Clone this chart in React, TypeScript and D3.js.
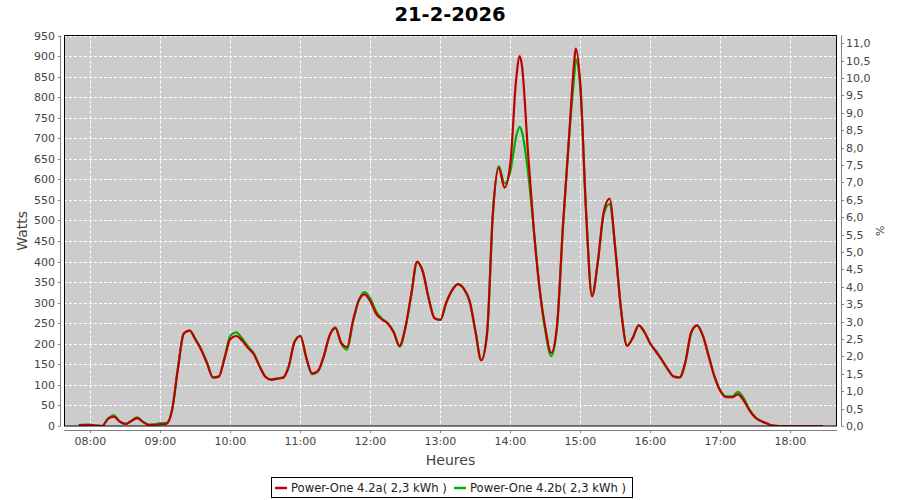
import React from "react";
import * as d3 from "d3";

const TITLE = "21-2-2026";
const Y_LEFT_LABEL = "Watts";
const Y_RIGHT_LABEL = "%";
const X_LABEL = "Heures";
const SERIES_NAMES = ["Power-One 4.2a( 2,3 kWh )", "Power-One 4.2b( 2,3 kWh )"];

const times = [
  "07:50","07:55","08:00","08:05","08:10","08:15","08:20","08:25","08:30","08:35","08:40","08:45","08:50","08:55",
  "09:00","09:05","09:10","09:15","09:20","09:25","09:30","09:35","09:40","09:45","09:50","09:55",
  "10:00","10:05","10:10","10:15","10:20","10:25","10:30","10:35","10:40","10:45","10:50","10:55",
  "11:00","11:05","11:10","11:15","11:20","11:25","11:30","11:35","11:40","11:45","11:50","11:55",
  "12:00","12:05","12:10","12:15","12:20","12:25","12:30","12:35","12:40","12:45","12:50","12:55",
  "13:00","13:05","13:10","13:15","13:20","13:25","13:30","13:35","13:40","13:45","13:50","13:55",
  "14:00","14:05","14:08","14:10","14:15","14:20","14:25","14:30","14:35","14:40","14:45","14:50","14:55","14:56",
  "15:00","15:05","15:10","15:15","15:20","15:25","15:30","15:35","15:40","15:45","15:50","15:55",
  "16:00","16:05","16:10","16:15","16:20","16:25","16:30","16:35","16:40","16:45","16:50","16:55",
  "17:00","17:05","17:10","17:15","17:20","17:25","17:30","17:35","17:40","17:45","17:50","17:55",
  "18:00","18:05","18:10","18:15","18:20","18:25","18:28"
];

const powerA = [
  2,3,3,1,0,17,23,11,5,12,19,10,3,3,
  4,5,39,140,225,232,210,185,152,118,120,165,
  212,219,208,190,175,145,120,113,115,117,145,205,
  219,167,128,134,170,220,238,202,192,255,305,320,
  303,273,259,249,228,195,240,320,400,375,310,262,
  258,300,330,345,334,305,232,160,225,517,628,580,
  640,845,900,875,670,480,335,238,178,245,485,690,895,918,
  830,515,315,400,520,553,430,280,195,215,245,228,
  200,180,160,138,120,118,155,228,245,220,170,120,
  85,70,70,77,62,38,20,12,6,1,0,0,
  0,0,0,0,0,0,0
];

const powerB = [
  2,3,3,1,0,18,26,11,5,12,21,10,3,4,
  7,7,40,140,225,233,212,187,154,118,120,167,
  220,228,213,194,177,146,120,113,116,118,145,205,
  219,165,126,132,168,220,240,200,186,252,305,326,
  310,278,261,250,228,193,238,318,398,375,310,262,
  258,300,330,345,334,303,230,160,225,517,632,590,
  620,705,728,715,620,480,335,230,170,240,480,690,860,892,
  820,515,318,400,515,540,430,280,195,215,245,228,
  200,182,160,138,120,118,155,226,245,220,170,120,
  87,72,72,83,68,40,22,12,6,1,0,0,
  0,0,0,0,0,0,0
];

const leftTicks = [0,50,100,150,200,250,300,350,400,450,500,550,600,650,700,750,800,850,900,950];
const rightTicks = [0,0.5,1,1.5,2,2.5,3,3.5,4,4.5,5,5.5,6,6.5,7,7.5,8,8.5,9,9.5,10,10.5,11];
const hourTicks = ["08:00","09:00","10:00","11:00","12:00","13:00","14:00","15:00","16:00","17:00","18:00"];

const parse = d3.timeParse("%H:%M:%S");
const P = (s: string) => parse(s.length === 5 ? s + ":00" : s) as Date;

export default function App() {
  const W = 900, H = 500;
  const L = 64, R = 837, T = 35.5, B = 426;
  const font = "'DejaVu Sans', sans-serif";
  const x = d3.scaleTime().domain([P("07:37:20"), P("18:40:00")]).range([L, R]);
  const y = d3.scaleLinear().domain([0, 950]).range([B, T]);
  const y2 = d3.scaleLinear().domain([0, 11.22]).range([B, T]);
  const fmt2 = (v: number) => d3.format(".1f")(v).replace(".", ",");

  const dataA = times.map((t, i) => ({ t: P(t), v: powerA[i] }));
  const dataB = times.map((t, i) => ({ t: P(t), v: powerB[i] }));
  const line = d3.line<{ t: Date; v: number }>()
    .x(d => x(d.t))
    .y(d => y(d.v))
    .curve(d3.curveMonotoneX);

  const red = "#c00000";
  const green = "#00b000";
  const axisCol = "#808080";
  const labCol = "#444444";

  return (
    <svg width={W} height={H} style={{ position: "absolute", left: 0, top: 0, background: "#fff" }} fontFamily={font}>
      <defs>
        <clipPath id="plotClip"><rect x={L} y={T} width={R - L} height={B - T} /></clipPath>
      </defs>
      <rect x={0} y={0} width={W} height={H} fill="#fff" />
      <text x={450} y={21} textAnchor="middle" fontSize={19.5} fontWeight="bold" fill="#000">{TITLE}</text>

      <rect x={L} y={T} width={R - L} height={B - T} fill="#cccccc" />
      {leftTicks.map(v => (
        <line key={"gy" + v} x1={L} x2={R} y1={Math.round(y(v)) + 0.5} y2={Math.round(y(v)) + 0.5}
          stroke="#fff" strokeWidth={1} strokeDasharray="3,2" />
      ))}
      {hourTicks.map(h => (
        <line key={"gx" + h} x1={Math.round(x(P(h))) + 0.5} x2={Math.round(x(P(h))) + 0.5} y1={T} y2={B}
          stroke="#fff" strokeWidth={1} strokeDasharray="3,2" />
      ))}

      <g clipPath="url(#plotClip)">
        <path d={line(dataB) || ""} fill="none" stroke={green} strokeWidth={2.2} strokeLinejoin="round" />
        <path d={line(dataA) || ""} fill="none" stroke={red} strokeWidth={2.2} strokeLinejoin="round" />
      </g>
      <rect x={L + 0.5} y={T} width={R - L - 1} height={B - T} fill="none" stroke="#000" strokeWidth={1} />

      {/* left axis */}
      <line x1={60.5} x2={60.5} y1={T} y2={B} stroke={axisCol} />
      {leftTicks.map(v => (
        <g key={"ly" + v}>
          <line x1={58} x2={60.5} y1={Math.round(y(v)) + 0.5} y2={Math.round(y(v)) + 0.5} stroke={axisCol} />
          <text x={55} y={y(v) + 4} textAnchor="end" fontSize={11} fill={labCol}>{v}</text>
        </g>
      ))}
      <text transform={`translate(27,${(T + B) / 2}) rotate(-90)`} textAnchor="middle" fontSize={14} fill={labCol}>{Y_LEFT_LABEL}</text>

      {/* right axis */}
      <line x1={841.5} x2={841.5} y1={T} y2={B} stroke={axisCol} />
      {rightTicks.map(v => (
        <g key={"ry" + v}>
          <line x1={841.5} x2={844} y1={Math.round(y2(v)) + 0.5} y2={Math.round(y2(v)) + 0.5} stroke={axisCol} />
          <text x={846} y={y2(v) + 4} textAnchor="start" fontSize={11} fill={labCol}>{fmt2(v)}</text>
        </g>
      ))}
      <text transform={`translate(884,${(T + B) / 2}) rotate(-90)`} textAnchor="middle" fontSize={11} fill={labCol}>{Y_RIGHT_LABEL}</text>

      {/* bottom axis */}
      <line x1={L} x2={R} y1={430.5} y2={430.5} stroke={axisCol} />
      {hourTicks.map(h => (
        <g key={"xt" + h}>
          <line x1={Math.round(x(P(h))) + 0.5} x2={Math.round(x(P(h))) + 0.5} y1={430.5} y2={433} stroke={axisCol} />
          <text x={x(P(h))} y={445} textAnchor="middle" fontSize={11} fill={labCol}>{h}</text>
        </g>
      ))}
      <text x={(L + R) / 2} y={465} textAnchor="middle" fontSize={14} fill={labCol}>{X_LABEL}</text>

      {/* legend */}
      <rect x={271.5} y={477.5} width={361} height={20} fill="#fff" stroke="#000" />
      <line x1={275} x2={287} y1={488} y2={488} stroke={red} strokeWidth={2.5} />
      <text x={291} y={492} fontSize={11.6} fill="#222">{SERIES_NAMES[0]}</text>
      <line x1={454} x2={466} y1={488} y2={488} stroke={green} strokeWidth={2.5} />
      <text x={470} y={492} fontSize={11.6} fill="#222">{SERIES_NAMES[1]}</text>
    </svg>
  );
}
